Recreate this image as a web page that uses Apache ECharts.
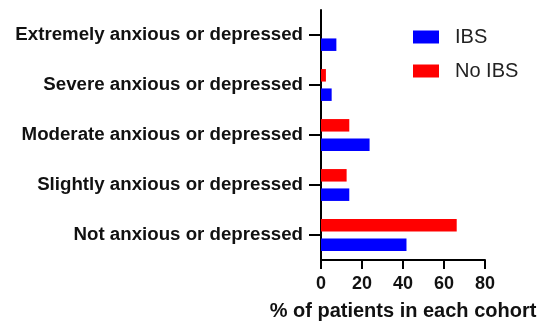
<!DOCTYPE html>
<html>
<head>
<meta charset="utf-8">
<script src="https://cdn.jsdelivr.net/npm/echarts@6/dist/echarts.min.js"></script>
<style>html,body{margin:0;padding:0;background:#fff;}#c{width:541px;height:326px;}</style>
</head>
<body>
<div id="c"></div>
<script>
const categories = ["Not anxious or depressed", "Slightly anxious or depressed", "Moderate anxious or depressed", "Severe anxious or depressed", "Extremely anxious or depressed"];
const ibs = [41.7, 13.8, 23.7, 5.2, 7.5];
const noIbs = [66.2, 12.5, 13.8, 2.4, 0];
const xTicks = [0, 20, 40, 60, 80];

const chart = echarts.init(document.getElementById('c'));
const font = 'Liberation Sans, Arial, sans-serif';
chart.setOption({
  animation: false,
  grid: {left: 321, right: 56, top: 10, bottom: 66},
  legend: {
    orient: 'vertical', left: 413, top: 27, padding: 0,
    itemWidth: 26, itemHeight: 13, itemGap: 14,
    icon: 'rect',
    textStyle: {fontFamily: font, fontSize: 20, color: '#222', padding: [0, 0, 0, 11]},
    data: ['IBS', 'No IBS']
  },
  xAxis: {
    type: 'value', min: xTicks[0], max: xTicks[xTicks.length - 1], interval: 20,
    name: '% of patients in each cohort', nameLocation: 'middle', nameGap: 41,
    nameTextStyle: {fontFamily: font, fontSize: 20, fontWeight: 'bold', color: '#111'},
    axisLine: {show: true, lineStyle: {color: '#000', width: 2}},
    axisTick: {show: true, length: 9, lineStyle: {color: '#000', width: 2}},
    axisLabel: {margin: 15, fontFamily: font, fontSize: 18, fontWeight: 'bold', color: '#111'},
    splitLine: {show: false}
  },
  yAxis: {
    type: 'category', data: categories,
    axisLine: {show: true, lineStyle: {color: '#000', width: 2}},
    axisTick: {show: true, alignWithLabel: true, length: 12, lineStyle: {color: '#000', width: 2}},
    axisLabel: {margin: 18, fontFamily: font, fontSize: 18.7, fontWeight: 'bold', color: '#111'}
  },
  series: [
    {name: 'No IBS', type: 'bar', data: noIbs, barWidth: 12.5, barGap: '55%', itemStyle: {color: '#ff0000'}},
    {name: 'IBS', type: 'bar', data: ibs, barWidth: 12.5, barGap: '55%', itemStyle: {color: '#0000ff'}}
  ]
});
</script>
</body>
</html>
